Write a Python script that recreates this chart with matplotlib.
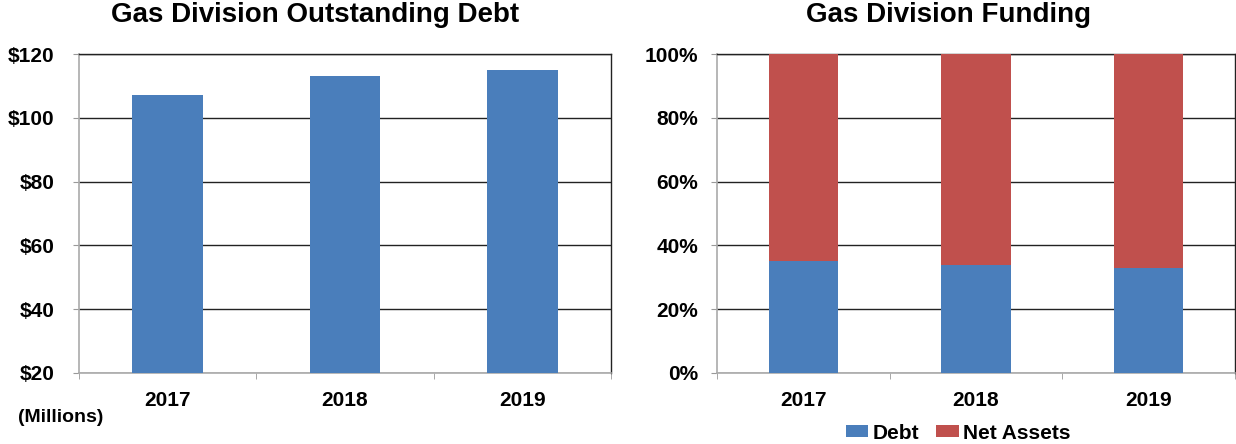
import matplotlib.pyplot as plt
import numpy as np

plt.rcParams['font.family'] = ['Liberation Sans', 'DejaVu Sans']
plt.rcParams['font.weight'] = 'bold'

years = ['2017', '2018', '2019']
debt_millions = [107, 113, 115]
debt_share = [35, 34, 33]
net_assets_share = [65, 66, 67]

blue = '#4a7ebb'
red = '#c0504d'

fig = plt.figure(figsize=(12.36, 4.44), dpi=100)
W, H = 1236, 444


def axes_px(x0, y0, x1, y1):
    return fig.add_axes([x0 / W, 1 - y1 / H, (x1 - x0) / W, (y1 - y0) / H])


def style(ax, yticks, labels, ypad):
    x = np.arange(len(years))
    ax.set_xlim(-0.5, len(years) - 0.5)
    ax.set_yticks(yticks)
    ax.set_yticklabels(labels, fontsize=15, fontweight='bold')
    ax.set_xticks(x)
    ax.set_xticklabels(years, fontsize=15, fontweight='bold')
    ax.tick_params(axis='x', length=0, pad=13)
    ax.tick_params(axis='y', length=4.5, color='#999999', pad=ypad)
    # category separators on the x axis
    ax.set_xticks(np.arange(len(years) + 1) - 0.5, minor=True)
    ax.tick_params(axis='x', which='minor', length=4.5, color='#999999', direction='out')
    ax.grid(axis='y', color='#222222', linewidth=1.0)
    ax.set_axisbelow(True)
    for s in ['left', 'bottom']:
        ax.spines[s].set_color('#aaaaaa')
        ax.spines[s].set_linewidth(1.2)
    for s in ['top', 'right']:
        ax.spines[s].set_color('#222222')
        ax.spines[s].set_linewidth(1.0)


x = np.arange(len(years))

# Outstanding debt
ax1 = axes_px(79, 54, 611, 373)
ax1.bar(x, np.array(debt_millions) - 20, bottom=20, width=0.4, color=blue, zorder=3)
ax1.set_ylim(20, 120)
style(ax1, [20, 40, 60, 80, 100, 120], ['$20', '$40', '$60', '$80', '$100', '$120'], 13)
fig.text(315 / W, 1 - 15 / H, 'Gas Division Outstanding Debt', ha='center', va='center',
         fontsize=20, fontweight='bold')
fig.text(18 / W, 1 - 417 / H, '(Millions)', ha='left', va='center', fontsize=14, fontweight='bold')

# Funding mix
ax2 = axes_px(717, 54, 1235, 373)
ax2.bar(x, debt_share, width=0.4, color=blue, zorder=3, label='Debt')
ax2.bar(x, net_assets_share, bottom=debt_share, width=0.4, color=red, zorder=3, label='Net Assets')
ax2.set_ylim(0, 100)
style(ax2, [0, 20, 40, 60, 80, 100], ['0%', '20%', '40%', '60%', '80%', '100%'], 9)
fig.text(949 / W, 1 - 15 / H, 'Gas Division Funding', ha='center', va='center',
         fontsize=20, fontweight='bold')
fig.legend(loc='center', bbox_to_anchor=(958 / W, 1 - 433 / H), ncol=2, frameon=False,
           prop={'size': 15, 'weight': 'bold'}, handlelength=1.1, handleheight=0.55,
           handletextpad=0.2, columnspacing=0.8, borderpad=0)

fig.savefig('out.png', dpi=100)
